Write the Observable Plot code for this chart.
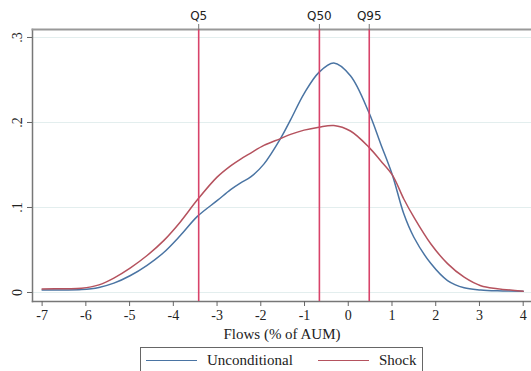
<!DOCTYPE html>
<html>
<head>
<meta charset="utf-8">
<script src="https://cdn.jsdelivr.net/npm/d3@7"></script>
<script src="https://cdn.jsdelivr.net/npm/@observablehq/plot@0.6"></script>
<style>
  body { margin: 0; background: #fff; width: 531px; height: 371px; overflow: hidden; }
  #legend { position: absolute; left: 140px; top: 347px; width: 283px; height: 32px; border: 1px solid #666; box-sizing: border-box;
    font-family: "Liberation Serif", serif; font-size: 15px; color: #222; }
  .item { position: absolute; top: 4px; display: flex; align-items: center; }
  .sw { display: inline-block; width: 51px; height: 0; border-top: 1.6px solid; margin-right: 10px; }
</style>
</head>
<body>
<div id="chart"></div>
<div id="legend">
  <div class="item" style="left:5px"><span class="sw" style="border-color:#4a74a3"></span><span id="l1"></span></div>
  <div class="item" style="left:177px"><span class="sw" style="border-color:#b5525e"></span><span id="l2"></span></div>
</div>
<script>
// Data
const xGrid = [-7, -6.5, -6.1, -5.7, -5.36, -4.98, -4.6, -4.22, -3.84, -3.45, -3.0, -2.69, -2.46, -2.23, -1.93, -1.55, -1.32, -1.01, -0.67, -0.33, 0.05, 0.47, 0.74, 1.01, 1.27, 1.5, 1.89, 2.27, 2.65, 3.03, 3.41, 4.0];
const unconditional = [0.003, 0.003, 0.0035, 0.006, 0.011, 0.020, 0.032, 0.047, 0.067, 0.0895, 0.108, 0.121, 0.129, 0.136, 0.151, 0.181, 0.203, 0.234, 0.259, 0.270, 0.255, 0.212, 0.175, 0.138, 0.0925, 0.065, 0.034, 0.014, 0.0055, 0.003, 0.002, 0.0015];
const shock = [0.004, 0.0045, 0.005, 0.009, 0.017, 0.029, 0.0435, 0.061, 0.083, 0.109, 0.1357, 0.149, 0.157, 0.164, 0.173, 0.181, 0.186, 0.191, 0.1945, 0.1965, 0.190, 0.171, 0.155, 0.138, 0.110, 0.0886, 0.057, 0.034, 0.018, 0.008, 0.0045, 0.0015];
const seriesNames = ["Unconditional", "Shock"];
const seriesColors = ["#4a74a3", "#b5525e"];
const quantileValues = [-3.42, -0.66, 0.48];
const quantileLabels = ["Q5", "Q50", "Q95"];
const xTicks = [-7, -6, -5, -4, -3, -2, -1, 0, 1, 2, 3, 4];
const yTicks = [0, 0.1, 0.2, 0.3];
const xLabel = "Flows (% of AUM)";

const rows = [];
xGrid.forEach((x, i) => {
  rows.push({x, y: unconditional[i], s: seriesNames[0]});
  rows.push({x, y: shock[i], s: seriesNames[1]});
});
const qRows = quantileValues.map((v, i) => ({v, label: quantileLabels[i]}));

const serif = "Liberation Serif, serif";
const chart = Plot.plot({
  width: 531,
  height: 343,
  marginLeft: 32,
  marginRight: 0,
  marginTop: 29,
  marginBottom: 42,
  style: {background: "#fff", fontFamily: serif},
  x: {domain: [-7.22, 4.19]},
  y: {domain: [-0.0106, 0.3094]},
  color: {domain: seriesNames, range: seriesColors},
  marks: [
    Plot.gridY(yTicks, {stroke: "#e3eeee", strokeOpacity: 1, strokeWidth: 1}),
    Plot.frame({anchor: "left", stroke: "#777", strokeWidth: 1.5}),
    Plot.frame({anchor: "bottom", stroke: "#777", strokeWidth: 1.5}),
    Plot.frame({anchor: "top", stroke: "#999", strokeWidth: 2}),
    Plot.line(rows, {x: "x", y: "y", z: "s", stroke: "s", strokeWidth: 1.5, curve: "catmull-rom"}),
    Plot.ruleX(qRows, {x: "v", stroke: "#d8436a", strokeWidth: 1.6}),
    Plot.axisX(quantileValues, {anchor: "top", tickSize: 6, tickPadding: 4, stroke: "#777",
      tickFormat: d => quantileLabels[quantileValues.indexOf(d)], fontFamily: "DejaVu Sans, sans-serif", fontSize: 12, fill: "#222", label: null}),
    Plot.axisX({anchor: "bottom", ticks: xTicks, tickSize: 5, tickPadding: 4, tickFormat: d => String(d), fontSize: 14, fill: "#222",
      label: xLabel, labelAnchor: "center", labelArrow: false, labelOffset: 37, stroke: "#666"}),
    Plot.axisY({ticks: yTicks, tickSize: 5, tickPadding: 6, tickRotate: -90, fontSize: 14, fill: "#222", stroke: "#666",
      tickFormat: d => d === 0 ? "0" : String(d).replace("0.", "."), label: null})
  ]
});
chart.querySelectorAll("[aria-label='x-axis label'] text, [aria-label='x-axis label']").forEach(el => el.setAttribute("font-size", "15"));
document.getElementById("chart").appendChild(chart);
document.getElementById("l1").textContent = seriesNames[0];
document.getElementById("l2").textContent = seriesNames[1];
</script>
</body>
</html>
